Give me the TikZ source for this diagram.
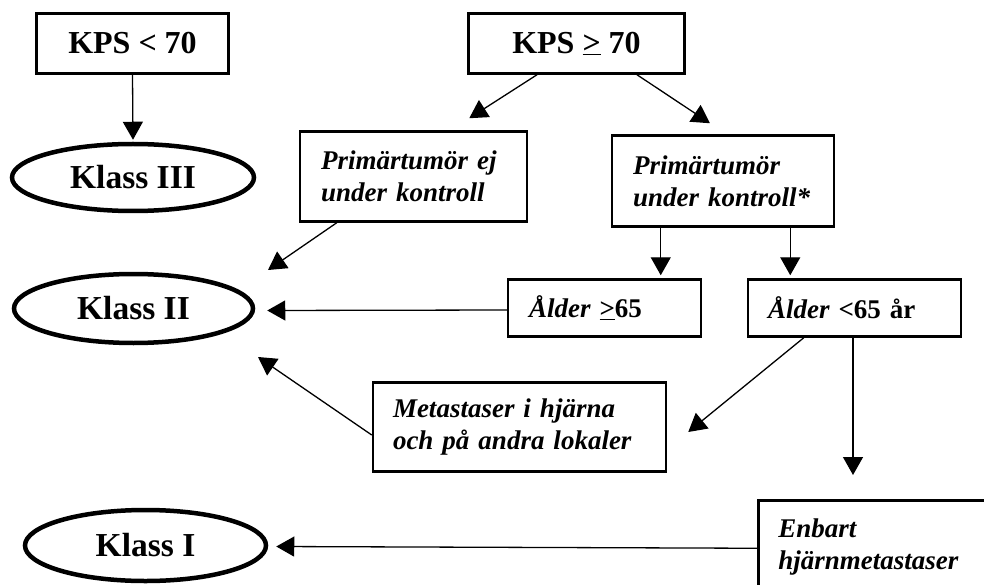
\documentclass[tikz,border=0pt]{standalone}
\usepackage{fontspec}
\setmainfont{Liberation Serif}
\usetikzlibrary{arrows.meta,shapes.geometric,calc}
\begin{document}
\begin{tikzpicture}[x=1pt,y=-1pt,
  arr/.style={line width=1.3pt,-{Triangle[length=18pt,width=20pt]}},
  box/.style={draw,line width=2.5pt,inner sep=0pt,align=left},
  kps/.style={box,align=center,font=\bfseries\fontsize{32}{37}\selectfont},
  cls/.style={draw,ellipse,line width=4.5pt,inner sep=0pt,font=\bfseries\fontsize{33.5}{39}\selectfont},
  it/.style={font=\bfseries\itshape\fontsize{27}{32}\selectfont},
]
\path[use as bounding box, clip] (0,0) rectangle (984,585);

% top boxes
\node[kps, minimum width=192, minimum height=60] (kps1) at (132.5,43.5) {KPS < 70};
\node[kps, minimum width=216, minimum height=60] (kps2) at (576.5,43.5) {KPS \underline{>} 70};

% ellipses
\node[cls, minimum width=242, minimum height=67] (k3) at (133,177.5) {Klass III};
\node[cls, minimum width=239, minimum height=69] (k2) at (133.5,308.5) {Klass II};
\node[cls, minimum width=241, minimum height=71] (k1) at (145.5,545.5) {Klass I};

% italic boxes
\node[box, it, inner xsep=21pt, text width=185pt, minimum height=90] (pA) at (413.5,176.5) {Primärtumör ej\\under kontroll};
\node[box, it, inner xsep=21pt, text width=180pt, minimum height=91] (pB) at (723,181) {Primärtumör\\under kontroll*};
\node[box, it, inner xsep=21pt, text width=151pt, minimum height=57] (a1) at (604.5,308) {Ålder {\upshape\underline{>}65}};
\node[box, it, inner xsep=20pt, text width=173pt, minimum height=57] (a2) at (854.5,308) {Ålder {\upshape <65 år}};
\node[box, it, inner xsep=20pt, text width=253pt, minimum height=89] (m) at (519.5,427) {Metastaser i hjärna\\och på andra lokaler};
\node[box, it, inner xsep=20pt, text width=220pt, minimum height=94, anchor=north west] (e) at (757,499) {Enbart\\hjärnmetastaser};

% connectors
\draw[arr, shorten >=2pt] (kps1.south) -- (k3.north);
\draw[arr] ($(kps2.south)+(-39.5,0)$) -- ($(pA.north east)+(-59,-12)$);
\draw[arr] ($(kps2.south)+(60.5,0)$) -- ($(pB.north)+(-13,-11)$);
\draw[arr] ($(pA.south west)+(38,0)$) -- ($(k2.center)+(134.5,-38.5)$);
\draw[arr] ($(pB.south west)+(50,0)$) -- ($(pB.south west |- a1.north)+(50,-3)$);
\draw[arr] ($(pB.south east)+(-45,0)$) -- ($(pB.south east |- a2.north)+(-45,-3)$);
\draw[arr] ($(a1.west)+(0,2)$) -- ($(k2.east)+(12,2)$);
\draw[arr] ($(m.west)+(0,8)$) -- ($(k2.center)+(124.5,48.5)$);
\draw[arr] ($(a2.south west)+(57,0)$) -- ($(m.east)+(21,5)$);
\draw[arr] ($(a2.south)+(-1.5,0)$) -- ($(a2.south |- e.north)+(-1.5,-24)$);
\draw[arr] ($(e.west)+(0,1)$) -- ($(k1.east)+(8,1)$);
\end{tikzpicture}
\end{document}
